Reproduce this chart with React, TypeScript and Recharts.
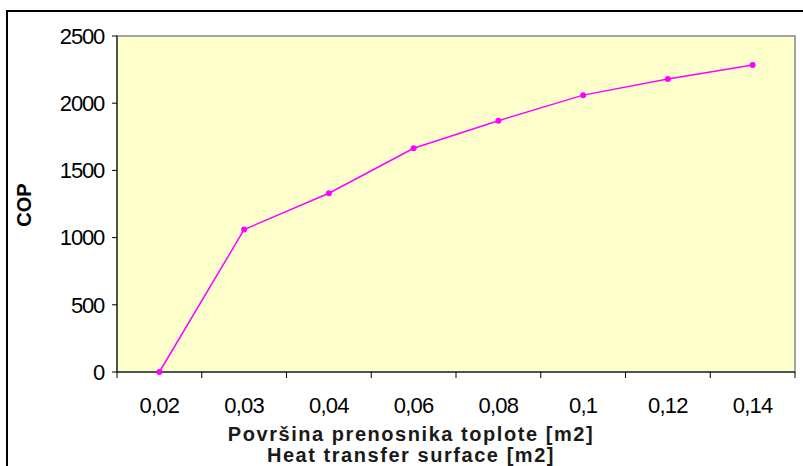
import { LineChart, Line, XAxis, YAxis, ReferenceArea, Label } from "recharts";

const surfaces = ["0,02", "0,03", "0,04", "0,06", "0,08", "0,1", "0,12", "0,14"];
const cop = [0, 1060, 1330, 1665, 1870, 2060, 2180, 2285];
const yTicks = [0, 500, 1000, 1500, 2000, 2500];
const xTitle = ["Površina prenosnika toplote [m2]", "Heat transfer surface [m2]"];
const yTitle = "COP";

const data = surfaces.map((s, i) => ({ surface: s, cop: cop[i] }));

const W = 803;
const H = 466;
const Y_W = 117;
const X_H = 94;
const MARGIN = { top: 36, right: 8, bottom: 0, left: 0 };
const PLOT_W = W - Y_W - MARGIN.left - MARGIN.right;
const HALF = PLOT_W / surfaces.length / 2;
const X_TICK = 6;
const X_GAP = 19;
const FONT = "'Liberation Sans', Arial, sans-serif";

function XTick(props: any) {
  const { x, y, index, payload } = props;
  const axisY = y - X_TICK - X_GAP;
  const last = index === surfaces.length - 1;
  return (
    <g>
      <line x1={x - HALF} x2={x - HALF} y1={axisY} y2={axisY + X_TICK} stroke="#000" />
      {last && <line x1={x + HALF} x2={x + HALF} y1={axisY} y2={axisY + X_TICK} stroke="#000" />}
      <text x={x} y={y} dy="0.71em" textAnchor="middle" fill="#000" fontSize={22} letterSpacing={-0.8} fontFamily={FONT}>
        {payload.value}
      </text>
    </g>
  );
}

function XTitle(props: any) {
  const vb = props.viewBox;
  const cx = vb.x + vb.width / 2 - 45;
  return (
    <g fontFamily={FONT} fontWeight="bold" fontSize={20} letterSpacing={1.55} fill="#1a1a1a" textAnchor="middle">
      <text x={cx} y={vb.y + 69}>{xTitle[0]}</text>
      <text x={cx} y={vb.y + 90}>{xTitle[1]}</text>
    </g>
  );
}

function YTitle(props: any) {
  const vb = props.viewBox;
  const cy = vb.y + vb.height / 2 + 1;
  const cx = 24;
  return (
    <text x={cx} y={cy} transform={`rotate(-90 ${cx} ${cy})`} textAnchor="middle" dominantBaseline="central"
      fontFamily={FONT} fontWeight="bold" fontSize={20} fill="#000">
      {yTitle}
    </text>
  );
}

export default function App() {
  return (
    <div style={{ position: "absolute", left: 0, top: 0, width: W, height: H, overflow: "hidden", background: "#fff" }}>
      <div style={{ position: "absolute", left: 6, top: 10, width: 1200, height: 1200, borderLeft: "2px solid #000", borderTop: "2px solid #000" }} />
      <div style={{ position: "absolute", left: 0, top: 0 }}>
        <LineChart width={W} height={H} data={data} margin={MARGIN}>
          <ReferenceArea x1={surfaces[0]} x2={surfaces[surfaces.length - 1]} y1={0} y2={2500}
            fill="#FFFFCC" fillOpacity={1} stroke="#a3a3a3" strokeWidth={2} />
          <XAxis dataKey="surface" scale="band" height={X_H} tickLine={false} tickSize={X_TICK} tickMargin={X_GAP}
            axisLine={{ stroke: "#000" }} tick={<XTick />} interval={0}>
            <Label content={<XTitle />} />
          </XAxis>
          <YAxis width={Y_W} domain={[0, 2500]} ticks={yTicks} tickSize={5} tickMargin={8}
            axisLine={{ stroke: "#000" }} tickLine={{ stroke: "#000" }}
            tick={{ fill: "#000", fontSize: 22, letterSpacing: -1.2, fontFamily: FONT }}>
            <Label content={<YTitle />} />
          </YAxis>
          <Line dataKey="cop" stroke="#FF00FF" strokeWidth={1.5} isAnimationActive={false}
            dot={{ r: 3, fill: "#FF00FF", stroke: "#FF00FF", strokeWidth: 0 }} />
        </LineChart>
      </div>
    </div>
  );
}
